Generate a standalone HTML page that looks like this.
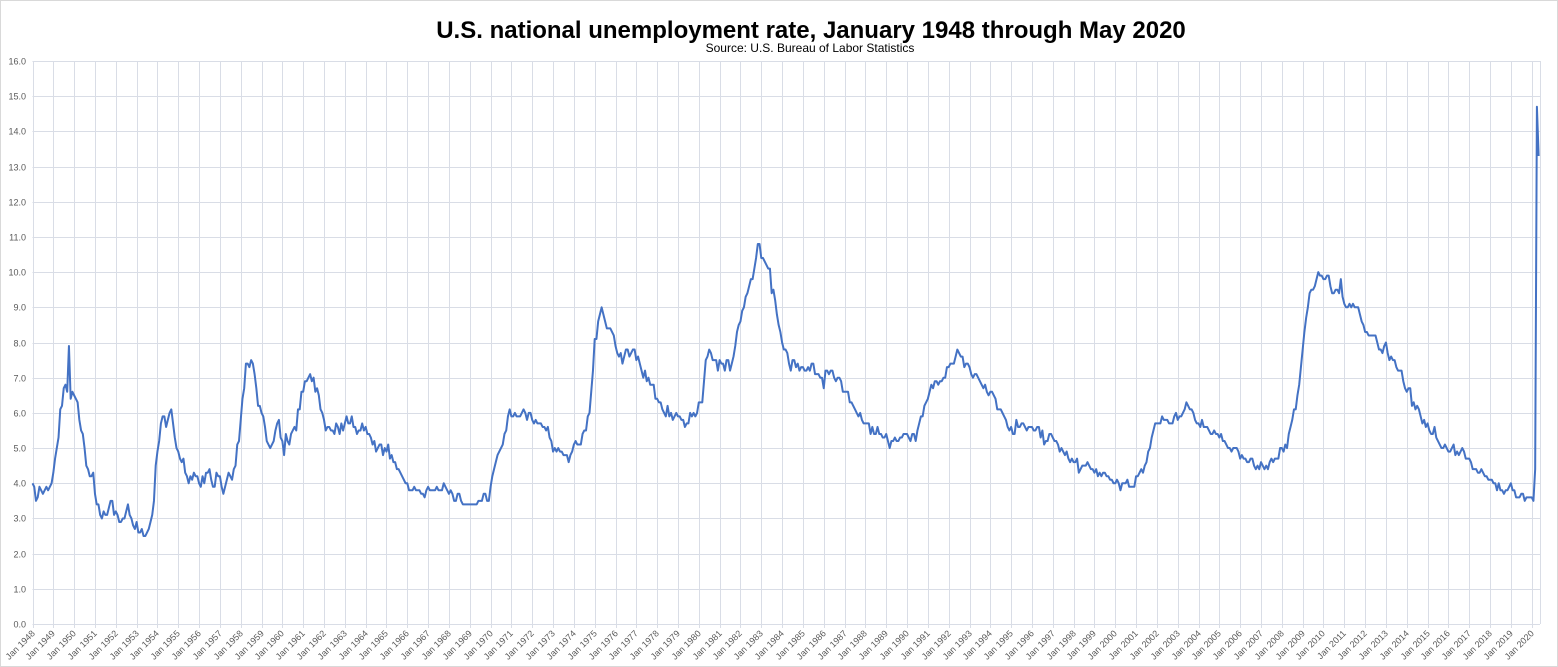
<!DOCTYPE html>
<html><head><meta charset="utf-8"><style>
html,body{margin:0;padding:0;background:#fff;}
#wrap{position:relative;width:1558px;height:667px;overflow:hidden;font-family:"Liberation Sans",sans-serif;}
svg{position:absolute;left:0;top:0;}
</style></head><body>
<div id="wrap">
<svg id="chart" width="1558" height="667"></svg>
</div>
<script>
const startYear = 1948;
const yTicks = [0,1,2,3,4,5,6,7,8,9,10,11,12,13,14,15,16];
const rates = [
4.0,3.9,3.5,3.6,3.9,3.8,3.7,3.8,3.9,3.8,3.9,4.0,
4.3,4.7,5.0,5.3,6.1,6.2,6.7,6.8,6.6,7.9,6.4,6.6,
6.5,6.4,6.3,5.8,5.5,5.4,5.0,4.5,4.4,4.2,4.2,4.3,
3.7,3.4,3.4,3.1,3.0,3.2,3.1,3.1,3.3,3.5,3.5,3.1,
3.2,3.1,2.9,2.9,3.0,3.0,3.2,3.4,3.1,3.0,2.8,2.7,
2.9,2.6,2.6,2.7,2.5,2.5,2.6,2.7,2.9,3.1,3.5,4.5,
4.9,5.2,5.7,5.9,5.9,5.6,5.8,6.0,6.1,5.7,5.3,5.0,
4.9,4.7,4.6,4.7,4.3,4.2,4.0,4.2,4.1,4.3,4.2,4.2,
4.0,3.9,4.2,4.0,4.3,4.3,4.4,4.1,3.9,3.9,4.3,4.2,
4.2,3.9,3.7,3.9,4.1,4.3,4.2,4.1,4.4,4.5,5.1,5.2,
5.8,6.4,6.7,7.4,7.4,7.3,7.5,7.4,7.1,6.7,6.2,6.2,
6.0,5.9,5.6,5.2,5.1,5.0,5.1,5.2,5.5,5.7,5.8,5.3,
5.2,4.8,5.4,5.2,5.1,5.4,5.5,5.6,5.5,6.1,6.1,6.6,
6.6,6.9,6.9,7.0,7.1,6.9,7.0,6.6,6.7,6.5,6.1,6.0,
5.8,5.5,5.6,5.6,5.5,5.5,5.4,5.7,5.6,5.4,5.7,5.5,
5.7,5.9,5.7,5.7,5.9,5.6,5.6,5.4,5.5,5.5,5.7,5.5,
5.6,5.4,5.4,5.3,5.1,5.2,4.9,5.0,5.1,5.1,4.8,5.0,
4.9,5.1,4.7,4.8,4.6,4.6,4.4,4.4,4.3,4.2,4.1,4.0,
4.0,3.8,3.8,3.8,3.9,3.8,3.8,3.8,3.7,3.7,3.6,3.8,
3.9,3.8,3.8,3.8,3.8,3.9,3.8,3.8,3.8,4.0,3.9,3.8,
3.7,3.8,3.7,3.5,3.5,3.7,3.7,3.5,3.4,3.4,3.4,3.4,
3.4,3.4,3.4,3.4,3.4,3.5,3.5,3.5,3.7,3.7,3.5,3.5,
3.9,4.2,4.4,4.6,4.8,4.9,5.0,5.1,5.4,5.5,5.9,6.1,
5.9,5.9,6.0,5.9,5.9,5.9,6.0,6.1,6.0,5.8,6.0,6.0,
5.8,5.7,5.8,5.7,5.7,5.7,5.6,5.6,5.5,5.6,5.3,5.2,
4.9,5.0,4.9,5.0,4.9,4.9,4.8,4.8,4.8,4.6,4.8,4.9,
5.1,5.2,5.1,5.1,5.1,5.4,5.5,5.5,5.9,6.0,6.6,7.2,
8.1,8.1,8.6,8.8,9.0,8.8,8.6,8.4,8.4,8.4,8.3,8.2,
7.9,7.7,7.6,7.7,7.4,7.6,7.8,7.8,7.6,7.7,7.8,7.8,
7.5,7.6,7.4,7.2,7.0,7.2,6.9,7.0,6.8,6.8,6.8,6.4,
6.4,6.3,6.3,6.1,6.0,5.9,6.2,5.9,6.0,5.8,5.9,6.0,
5.9,5.9,5.8,5.8,5.6,5.7,5.7,6.0,5.9,6.0,5.9,6.0,
6.3,6.3,6.3,6.9,7.5,7.6,7.8,7.7,7.5,7.5,7.5,7.2,
7.5,7.4,7.4,7.2,7.5,7.5,7.2,7.4,7.6,7.9,8.3,8.5,
8.6,8.9,9.0,9.3,9.4,9.6,9.8,9.8,10.1,10.4,10.8,10.8,
10.4,10.4,10.3,10.2,10.1,10.1,9.4,9.5,9.2,8.8,8.5,8.3,
8.0,7.8,7.8,7.7,7.4,7.2,7.5,7.5,7.3,7.4,7.2,7.3,
7.3,7.2,7.2,7.3,7.2,7.4,7.4,7.1,7.1,7.1,7.0,7.0,
6.7,7.2,7.2,7.1,7.2,7.2,7.0,6.9,7.0,7.0,6.9,6.6,
6.6,6.6,6.6,6.3,6.3,6.2,6.1,6.0,5.9,6.0,5.8,5.7,
5.7,5.7,5.7,5.4,5.6,5.4,5.4,5.6,5.4,5.4,5.3,5.3,
5.4,5.2,5.0,5.2,5.2,5.3,5.2,5.2,5.3,5.3,5.4,5.4,
5.4,5.3,5.2,5.4,5.4,5.2,5.5,5.7,5.9,5.9,6.2,6.3,
6.4,6.6,6.8,6.7,6.9,6.9,6.8,6.9,6.9,7.0,7.0,7.3,
7.3,7.4,7.4,7.4,7.6,7.8,7.7,7.6,7.6,7.3,7.4,7.4,
7.3,7.1,7.0,7.1,7.1,7.0,6.9,6.8,6.7,6.8,6.6,6.5,
6.6,6.6,6.5,6.4,6.1,6.1,6.1,6.0,5.9,5.8,5.6,5.5,
5.6,5.4,5.4,5.8,5.6,5.6,5.7,5.7,5.6,5.5,5.6,5.6,
5.6,5.5,5.5,5.6,5.6,5.3,5.5,5.1,5.2,5.2,5.4,5.4,
5.3,5.2,5.2,5.1,4.9,5.0,4.9,4.8,4.9,4.7,4.6,4.7,
4.6,4.6,4.7,4.3,4.4,4.5,4.5,4.5,4.6,4.5,4.4,4.4,
4.3,4.4,4.2,4.3,4.2,4.3,4.3,4.2,4.2,4.1,4.1,4.0,
4.0,4.1,4.0,3.8,4.0,4.0,4.0,4.1,3.9,3.9,3.9,3.9,
4.2,4.2,4.3,4.4,4.3,4.5,4.6,4.9,5.0,5.3,5.5,5.7,
5.7,5.7,5.7,5.9,5.8,5.8,5.8,5.7,5.7,5.7,5.9,6.0,
5.8,5.9,5.9,6.0,6.1,6.3,6.2,6.1,6.1,6.0,5.8,5.7,
5.7,5.6,5.8,5.6,5.6,5.6,5.5,5.4,5.4,5.5,5.4,5.4,
5.3,5.4,5.2,5.2,5.1,5.0,5.0,4.9,5.0,5.0,5.0,4.9,
4.7,4.8,4.7,4.7,4.6,4.6,4.7,4.7,4.5,4.4,4.5,4.4,
4.6,4.5,4.4,4.5,4.4,4.6,4.7,4.6,4.7,4.7,4.7,5.0,
5.0,4.9,5.1,5.0,5.4,5.6,5.8,6.1,6.1,6.5,6.8,7.3,
7.8,8.3,8.7,9.0,9.4,9.5,9.5,9.6,9.8,10.0,9.9,9.9,
9.8,9.8,9.9,9.9,9.6,9.4,9.4,9.5,9.5,9.4,9.8,9.3,
9.1,9.0,9.0,9.1,9.0,9.1,9.0,9.0,9.0,8.8,8.6,8.5,
8.3,8.3,8.2,8.2,8.2,8.2,8.2,8.0,7.8,7.8,7.7,7.9,
8.0,7.7,7.5,7.6,7.5,7.5,7.3,7.2,7.2,7.2,6.9,6.7,
6.6,6.7,6.7,6.2,6.3,6.1,6.2,6.1,5.9,5.7,5.8,5.6,
5.7,5.5,5.4,5.4,5.6,5.3,5.2,5.1,5.0,5.0,5.1,5.0,
4.9,4.9,5.0,5.1,4.8,4.9,4.8,4.9,5.0,4.9,4.7,4.7,
4.7,4.6,4.4,4.4,4.4,4.3,4.3,4.4,4.3,4.2,4.2,4.1,
4.1,4.1,4.0,4.0,3.8,4.0,3.8,3.8,3.7,3.8,3.8,3.9,
4.0,3.8,3.8,3.6,3.6,3.6,3.7,3.7,3.5,3.6,3.6,3.6,
3.6,3.5,4.4,14.7,13.3
];
const yearLabels = [];
for (let y = 1948; y <= 2020; y++) yearLabels.push('Jan ' + y);

const NS = 'http://www.w3.org/2000/svg';
const svg = document.getElementById('chart');
const L = 32.5, R = 1540, T = 61, B = 624;
const monthW = (1531.7 - L) / 864;
const xScale = i => L + i * monthW;
const yScale = v => B - v * (B - T) / 16;
function mk(tag, attrs) { const e = document.createElementNS(NS, tag); for (const k in attrs) e.setAttribute(k, attrs[k]); svg.appendChild(e); return e; }

const border = mk('rect', {x:0.5, y:0.5, width:1557, height:666, fill:'#fff', stroke:'#d9d9d9'});



const title = mk('text', {x:811, y:38, 'text-anchor':'middle', 'font-size':'24', 'font-weight':'bold', fill:'#000', 'font-family':'Liberation Sans, sans-serif'});
title.textContent = 'U.S. national unemployment rate, January 1948 through May 2020';


const sub = mk('text', {x:810, y:52, 'text-anchor':'middle', 'font-size':'12', fill:'#000', 'font-family':'Liberation Sans, sans-serif'});
sub.textContent = 'Source: U.S. Bureau of Labor Statistics';



yTicks.forEach(v => {
  const y = Math.round(yScale(v)) + 0.5;
  const g = mk('line', {x1:L, x2:R, y1:y, y2:y, stroke:'#d9dde6', 'stroke-width':1});
  
  
  const t = mk('text', {x:26, y:y + 3, 'text-anchor':'end', 'font-size':'9', fill:'#595959', 'font-family':'Liberation Sans, sans-serif'});
  t.textContent = v.toFixed(1);
  
  
});
yearLabels.forEach((lab, k) => {
  const x = Math.round(xScale(k * 12)) + 0.5;
  const g = mk('line', {x1:x, x2:x, y1:T, y2:B + 4, stroke:'#d9dde6', 'stroke-width':1});
  
  
  const t = mk('text', {x:x + 2, y:B + 10, 'text-anchor':'end', 'font-size':'9', fill:'#595959', 'font-family':'Liberation Sans, sans-serif', transform:'rotate(-45 ' + (x + 2) + ' ' + (B + 10) + ')'});
  t.textContent = lab;
  
  
});
const rb = mk('line', {x1:R + 0.5, x2:R + 0.5, y1:T, y2:B, stroke:'#d9dde6'});



const pts = rates.map((v, i) => xScale(i).toFixed(2) + ',' + yScale(v).toFixed(2)).join(' ');
const line = mk('polyline', {points:pts, fill:'none', stroke:'#4472c4', 'stroke-width':2, 'stroke-linejoin':'round'});


</script>
</body></html>
